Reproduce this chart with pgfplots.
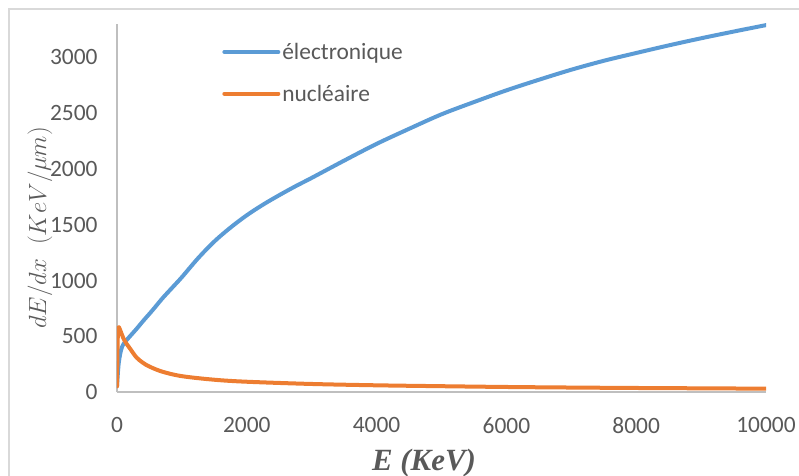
\documentclass[border=0pt]{standalone}
\usepackage{pgfplots}
\pgfplotsset{compat=1.18}
\usepackage{fontspec}
\setmainfont{Carlito}
\newfontfamily\serifbi{Liberation Serif}
\definecolor{eblue}{HTML}{5B9BD5}
\definecolor{eorange}{HTML}{ED7D31}
\definecolor{txtgray}{HTML}{595959}
\definecolor{axgray}{HTML}{BFBFBF}
\definecolor{framegray}{HTML}{D9D9D9}
\newcommand{\lf}{\fontsize{23.5}{27}\selectfont}
\begin{document}
\begin{tikzpicture}
\path[use as bounding box] (-117bp,-84bp) rectangle (682bp,392bp);
\draw[framegray, line width=1.5bp] (-108bp,-90bp) -- (-108bp,383bp) -- (690bp,383bp);
\begin{axis}[
  scale only axis,
  width=649bp, height=368bp,
  xmin=0, xmax=10000, ymin=0, ymax=3300,
  axis x line=bottom, axis y line=left,
  axis line style={-, axgray, line width=1.2bp},
  xtick={0,2000,...,10000}, ytick={0,500,...,3000},
  major tick length=0pt,
  scaled x ticks=false, scaled y ticks=false,
  /pgf/number format/assume math mode=true,
  /pgf/number format/1000 sep={},
  tick label style={font=\lf, text=txtgray},
  yticklabel style={xshift=-16bp},
  xticklabel style={yshift=-22bp},
  every axis y label/.style={at={(axis description cs:-0.1186,0.446)}, rotate=90, anchor=center, font=\fontsize{31}{34}\selectfont, text=txtgray},
  every axis x label/.style={at={(axis description cs:0.473,-0.193)}, anchor=center, font=\serifbi\bfseries\itshape\fontsize{31}{33}\selectfont, text=txtgray},
  ylabel={$dE/dx\ \ (KeV/\mu m)$},
  xlabel={E (KeV)},
  legend style={at={(rel axis cs:0.162,0.954)}, anchor=north west, draw=none, fill=none, inner sep=0pt, text=txtgray, row sep=20bp},
  legend cell align=left,
  legend image code/.code={\draw[#1, line width=4bp] (0bp,0bp) -- (54bp,0bp);},
  every axis plot/.append style={line width=4bp, line join=round, line cap=round, smooth, tension=0.55},
]
\addplot[eblue] coordinates {
(0,55) (25,250) (60,370) (100,430) (200,500) (300,565) (400,635) (550,735) (700,840) (850,935) (1000,1030)
(1250,1200) (1500,1350) (1750,1475) (2000,1585) (2250,1680) (2500,1765) (2750,1845) (3000,1920) (3500,2075) (4000,2225)
(4500,2360) (5000,2490) (5500,2600) (6000,2705) (6500,2800) (7000,2890) (7500,2970) (8000,3040) (8500,3108) (9000,3172) (9500,3232) (10000,3290)
};
\addlegendentry{\lf électronique}
\addplot[eorange] coordinates {
(0,50) (10,450) (22,578) (45,560) (100,480) (150,430) (200,390) (300,310)
(400,262) (500,228) (700,182) (1000,142) (1500,110) (2000,92) (3000,72)
(4000,60) (5000,52) (6000,45) (7000,40) (8000,36) (9000,33) (10000,30)
};
\addlegendentry{\lf nucléaire}
\end{axis}
\end{tikzpicture}
\end{document}
